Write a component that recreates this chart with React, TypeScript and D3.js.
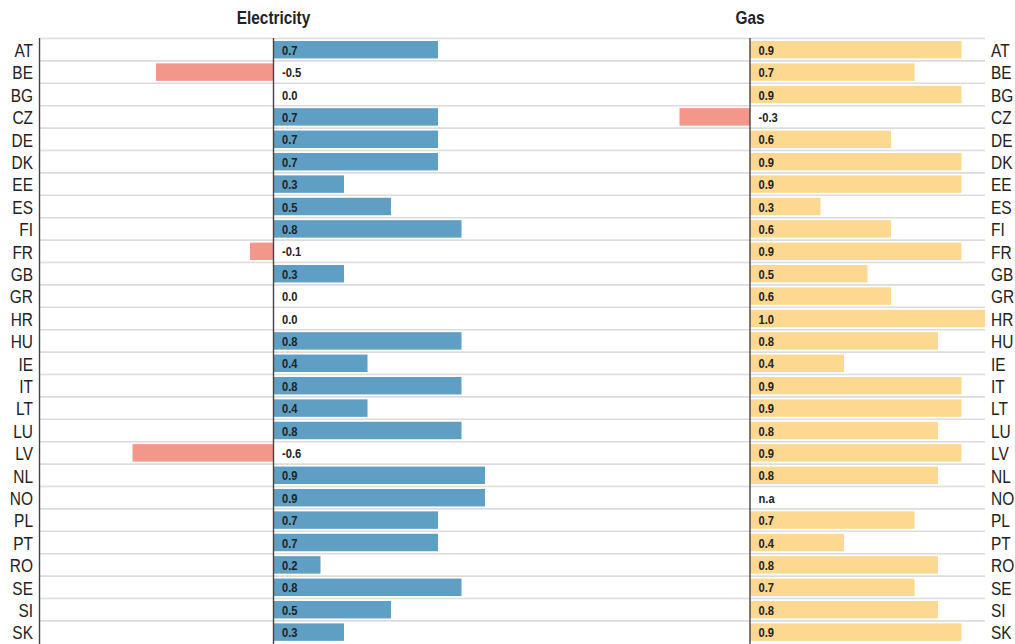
import React from "react";
import * as d3 from "d3";

const countries = ["AT","BE","BG","CZ","DE","DK","EE","ES","FI","FR","GB","GR","HR","HU","IE","IT","LT","LU","LV","NL","NO","PL","PT","RO","SE","SI","SK"];
const electricity: (number | null)[] = [0.7,-0.5,0.0,0.7,0.7,0.7,0.3,0.5,0.8,-0.1,0.3,0.0,0.0,0.8,0.4,0.8,0.4,0.8,-0.6,0.9,0.9,0.7,0.7,0.2,0.8,0.5,0.3];
const gas: (number | null)[] = [0.9,0.7,0.9,-0.3,0.6,0.9,0.9,0.3,0.6,0.9,0.5,0.6,1.0,0.8,0.4,0.9,0.9,0.8,0.9,0.8,null,0.7,0.4,0.8,0.7,0.8,0.9];
const panelTitles = ["Electricity", "Gas"];

const W = 1015, H = 644;
const FONT = "'Liberation Sans', Arial, sans-serif";

function T(props: { x: number; y: number; sx: number; anchor?: string; size: number; bold?: boolean; children: any }) {
  return (
    <text
      transform={`translate(${props.x},${props.y}) scale(${props.sx},1)`}
      textAnchor={props.anchor || "start"}
      fontFamily={FONT}
      fontWeight={props.bold ? "bold" : "normal"}
      fontSize={props.size}
      fill="#222"
    >
      {props.children}
    </text>
  );
}

export default function App() {
  const y = d3.scaleBand<string>().domain(countries).range([38.5, 643.3]).paddingInner(0.22).paddingOuter(0.11);
  const step = y.step();
  const rowTop = (c: string) => 38.5 + countries.indexOf(c) * step;
  const xE = d3.scaleLinear().domain([-1, 1]).range([38.5, 508.5]);
  const xG = d3.scaleLinear().domain([-1, 1]).range([515, 985]);
  const panels = [
    { title: panelTitles[0], data: electricity, x: xE, pos: "#5f9fc4" },
    { title: panelTitles[1], data: gas, x: xG, pos: "#fdd891" },
  ];
  const neg = "#f4978b";
  return (
    <div style={{ position: "absolute", left: 0, top: 0 }}>
      <svg width={W} height={H} style={{ display: "block", background: "#fff" }}>
        {countries.map((c) => (
          <line key={"g" + c} x1={40} x2={985} y1={rowTop(c)} y2={rowTop(c)} stroke="#dcdcdc" strokeWidth={1.6} />
        ))}
        {panels.map((p, pi) => (
          <g key={pi}>
            <T x={p.x(0)} y={24} sx={0.88} anchor="middle" size={17.5} bold>{p.title}</T>
            {countries.map((c, i) => {
              const v = p.data[i];
              const yy = y(c)!;
              const x0 = p.x(0);
              return (
                <g key={c}>
                  {v !== null && v !== 0 && (
                    <rect x={Math.min(p.x(v), x0)} y={yy} width={Math.abs(p.x(v) - x0)} height={y.bandwidth()} fill={v > 0 ? p.pos : neg} />
                  )}
                  <T x={x0 + 8.5} y={yy + y.bandwidth() / 2 + 5} sx={0.86} size={13} bold>
                    {v === null ? "n.a" : v.toFixed(1)}
                  </T>
                </g>
              );
            })}
            <line x1={p.x(0)} x2={p.x(0)} y1={38} y2={H} stroke="#444" strokeWidth={1.4} />
          </g>
        ))}
        <line x1={39.5} x2={39.5} y1={38} y2={H} stroke="#444" strokeWidth={1.4} />
        {countries.map((c) => (
          <g key={"l" + c}>
            <T x={33} y={y(c)! + y.bandwidth() / 2 + 7.3} sx={0.86} anchor="end" size={18}>{c}</T>
            <T x={991} y={y(c)! + y.bandwidth() / 2 + 7.3} sx={0.86} size={18}>{c}</T>
          </g>
        ))}
      </svg>
    </div>
  );
}
